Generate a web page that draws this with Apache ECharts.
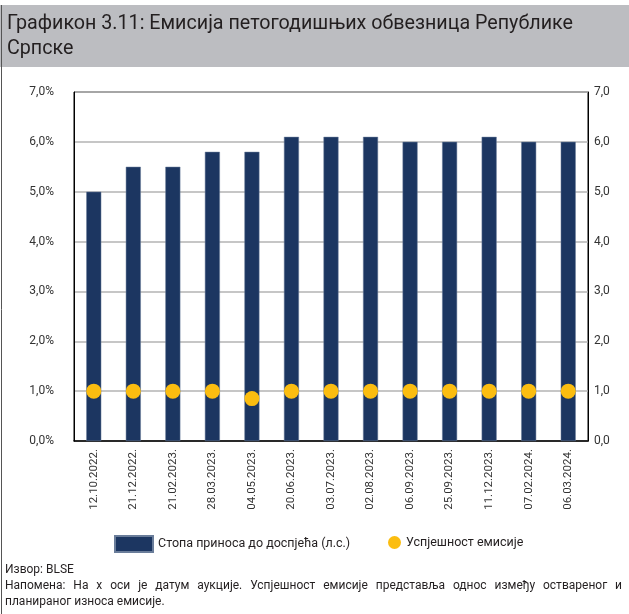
<!DOCTYPE html>
<html>
<head>
<meta charset="utf-8">
<script src="https://cdn.jsdelivr.net/npm/echarts@6/dist/echarts.min.js"></script>
<style>
  html, body { margin: 0; padding: 0; background: #fff; }
  #chart { width: 629px; height: 614px; }
</style>
</head>
<body>
<div id="chart"></div>
<script>
// датуми аукција
const dates = ['12.10.2022.', '21.12.2022.', '21.02.2023.', '28.03.2023.', '04.05.2023.',
  '20.06.2023.', '03.07.2023.', '02.08.2023.', '06.09.2023.', '25.09.2023.',
  '11.12.2023.', '07.02.2024.', '06.03.2024.'];
// стопа приноса до доспјећа (%)
const yieldRate = [5.0, 5.5, 5.5, 5.8, 5.8, 6.1, 6.1, 6.1, 6.0, 6.0, 6.1, 6.0, 6.0];
// успјешност емисије (д.с.)
const success = [1.0, 1.0, 1.0, 1.0, 0.85, 1.0, 1.0, 1.0, 1.0, 1.0, 1.0, 1.0, 1.0];
const axisTicks = [0, 1, 2, 3, 4, 5, 6, 7];

const font = 'Roboto, "Open Sans", sans-serif';
const chart = echarts.init(document.getElementById('chart'));

const fmt = (v) => v.toFixed(1).replace('.', ',');

// обострано поравнат ред напомене
const noteLine = 'Напомена: На х оси је датум аукције. Успјешност емисије представља однос између оствареног и';
const noteFont = '12px ' + font;
function justified(text, x0, x1, top) {
  const ctx = document.createElement('canvas').getContext('2d');
  ctx.font = noteFont;
  const words = text.split(' ');
  const widths = words.map((w) => ctx.measureText(w).width);
  const total = widths.reduce((a, b) => a + b, 0);
  const gap = (x1 - x0 - total) / (words.length - 1);
  let x = x0;
  return words.map((w, i) => {
    const el = { type: 'text', x: x, y: top, style: { text: w, font: noteFont, fill: '#231f20' } };
    x += widths[i] + gap;
    return el;
  });
}

chart.setOption({
  animation: false,
  textStyle: { fontFamily: font },
  graphic: [
    // наслов
    { type: 'rect', shape: { x: 0, y: 5, width: 629, height: 62 }, style: { fill: '#bcbdc1' }, z: 0 },
    { type: 'line', shape: { x1: 1.5, y1: 5, x2: 1.5, y2: 614 }, style: { stroke: '#555', lineWidth: 1 } },
    { type: 'text', left: 7, top: 14, style: { text: 'Графикон 3.11: Емисија петогодишњих обвезница Републике', font: '19.7px ' + font, fill: '#231f20' } },
    { type: 'text', left: 7, top: 39, style: { text: 'Српске', font: '19.7px ' + font, fill: '#231f20' } },
    // извор и напомена
    { type: 'text', left: 5, top: 564, style: { text: 'Извор: BLSE', font: noteFont, fill: '#231f20' } },
    ...justified(noteLine, 5, 622, 580),
    { type: 'text', left: 5, top: 596, style: { text: 'планираног износа емисије.', font: noteFont, fill: '#231f20' } }
  ],
  legend: [
    {
      data: [{ name: 'Стопа приноса до доспјећа (л.с.)', icon: 'rect' }],
      left: 109, top: 530,
      itemWidth: 38, itemHeight: 16,
      textStyle: { fontSize: 12.5, color: '#231f20' }
    },
    {
      data: [{ name: 'Успјешност емисије', icon: 'circle' }],
      left: 383, top: 531,
      itemWidth: 13, itemHeight: 13,
      textStyle: { fontSize: 12.5, color: '#231f20' }
    }
  ],
  grid: {
    left: 74, right: 41, top: 92, bottom: 173,
    show: true, borderColor: '#000', borderWidth: 1, containLabel: false
  },
  xAxis: {
    type: 'category',
    data: dates,
    axisLine: { lineStyle: { color: '#000', width: 1.5 } },
    axisTick: { show: false },
    axisLabel: { rotate: 90, fontSize: 11.5, color: '#333', margin: 8 }
  },
  yAxis: [
    {
      type: 'value', min: axisTicks[0], max: axisTicks[axisTicks.length - 1], interval: 1,
      axisLine: { show: true, lineStyle: { color: '#000' } },
      axisTick: { show: false },
      axisLabel: { formatter: (v) => fmt(v) + '%', fontSize: 12, color: '#333', margin: 20 },
      splitLine: { lineStyle: { color: '#b3b3b3', width: 1.5 } }
    },
    {
      type: 'value', min: axisTicks[0], max: axisTicks[axisTicks.length - 1], interval: 1,
      position: 'right',
      axisLine: { show: true, lineStyle: { color: '#000' } },
      axisTick: { show: false },
      axisLabel: { formatter: (v) => fmt(v), fontSize: 12, color: '#333', margin: 6 },
      splitLine: { show: false }
    }
  ],
  series: [
    {
      name: 'Стопа приноса до доспјећа (л.с.)',
      type: 'bar',
      data: yieldRate,
      barWidth: 15,
      itemStyle: { color: '#1c3661', borderColor: '#6a7d9a', borderWidth: 0.5 },
      z: 2
    },
    {
      name: 'Успјешност емисије',
      type: 'scatter',
      yAxisIndex: 1,
      data: success,
      symbolSize: 15,
      itemStyle: { color: '#fbbd10', opacity: 1 },
      z: 3
    }
  ]
});
</script>
</body>
</html>
